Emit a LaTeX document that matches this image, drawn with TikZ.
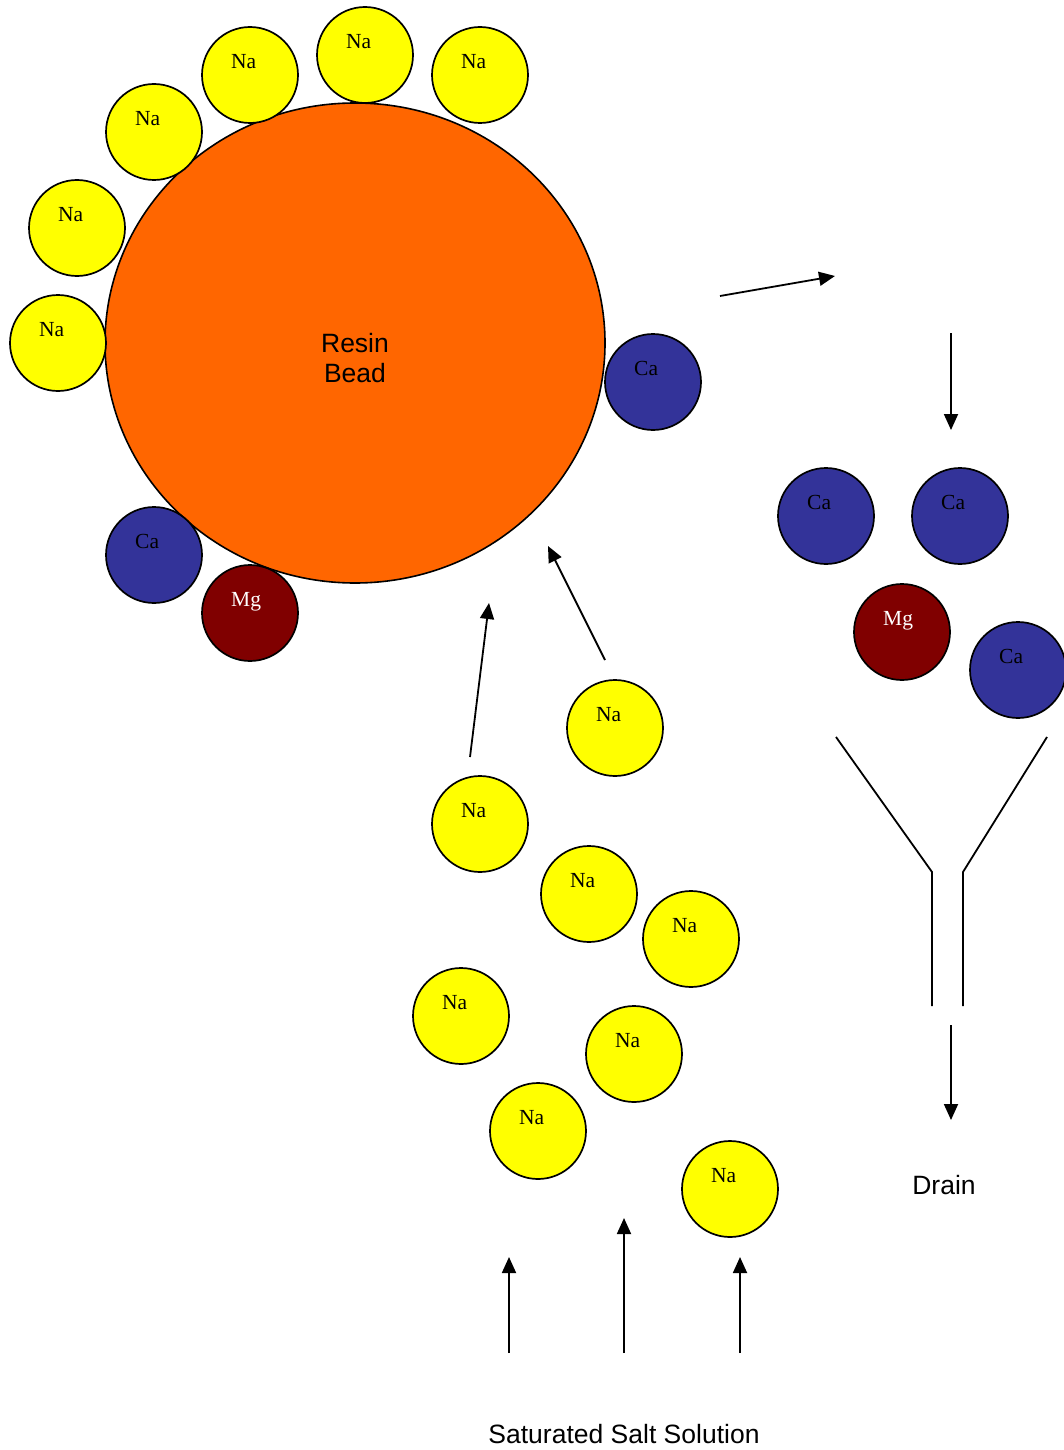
\documentclass[tikz,border=0pt]{standalone}
\usepackage{fontspec}
\setmainfont{Liberation Serif}
\setsansfont{Liberation Sans}
\usetikzlibrary{arrows.meta,calc,shapes.geometric}
\definecolor{beadorange}{HTML}{FF6600}
\definecolor{nayellow}{HTML}{FFFF00}
\definecolor{cablue}{HTML}{333399}
\definecolor{mgred}{HTML}{800000}
\tikzset{
  ion/.style={circle, draw=black, line width=1.7pt, minimum size=96pt, inner sep=0pt},
  naion/.style={ion, fill=nayellow},
  caion/.style={ion, fill=cablue},
  mgion/.style={ion, fill=mgred},
  ionlbl/.style={anchor=base west, inner sep=0pt, font=\fontsize{21.5}{21.5}\selectfont},
  natxt/.style={text=black},
  catxt/.style={text=black},
  mgtxt/.style={text=white},
  bead/.style={ellipse, draw=black, line width=1.6pt, fill=beadorange,
    minimum width=500pt, minimum height=480pt, inner sep=0pt},
  sanslbl/.style={font=\sffamily\fontsize{26.5}{30}\selectfont, inner sep=0pt, align=center},
  flow/.style={line width=1.8pt, -{Triangle[length=16pt,width=14pt]}},
  funnel/.style={line width=1.8pt}
}
\newcommand\myion[5]{%
  \node[#4ion] (#1) at (#2,#3) {};
  \node[ionlbl, #4txt] (#1-t) at ($(#1.center)+(-19,-6.5)$) {#5};}
\begin{document}
\begin{tikzpicture}[x=1pt, y=-1pt]
\useasboundingbox (0,0) rectangle (1063,1450);

% resin bead
\node[bead] (bead) at (355,343) {};
\node[sanslbl] (beadtxt) at (355,358.5) {Resin\\Bead};

% sodium ions around the bead
\myion{na1}{58}{343}{na}{Na}
\myion{na2}{77}{228}{na}{Na}
\myion{na3}{154}{132}{na}{Na}
\myion{na4}{250}{75}{na}{Na}
\myion{na5}{365}{55}{na}{Na}
\myion{na6}{480}{75}{na}{Na}

% hardness ions on the bead
\myion{cab1}{653}{382}{ca}{Ca}
\myion{cab2}{154}{555}{ca}{Ca}
\myion{mgb1}{250}{613}{mg}{Mg}

% released hardness ions
\myion{car1}{826}{516}{ca}{Ca}
\myion{car2}{960}{516}{ca}{Ca}
\myion{mgr1}{902}{632}{mg}{Mg}
\myion{car3}{1018}{670}{ca}{Ca}

% incoming sodium ions
\myion{ns1}{615}{728}{na}{Na}
\myion{ns2}{480}{824}{na}{Na}
\myion{ns3}{589}{894}{na}{Na}
\myion{ns4}{691}{939}{na}{Na}
\myion{ns5}{461}{1016}{na}{Na}
\myion{ns6}{634}{1054}{na}{Na}
\myion{ns7}{538}{1131}{na}{Na}
\myion{ns8}{730}{1189}{na}{Na}

% arrow end points
\coordinate (a1s) at (720,296);  \coordinate (a1e) at (835,276);
\coordinate (a2s) at (951,333);  \coordinate (a2e) at (951,430);
\coordinate (a3s) at (470,757);  \coordinate (a3e) at (489,603);
\coordinate (a4s) at (605,660);  \coordinate (a4e) at (548,546);
\coordinate (a5s) at (509,1353); \coordinate (a5e) at (509,1257);
\coordinate (a6s) at (624,1353); \coordinate (a6e) at (624,1218);
\coordinate (a7s) at (740,1353); \coordinate (a7e) at (740,1257);
\coordinate (a8s) at (951,1025); \coordinate (a8e) at (951,1120);

\draw[flow] (a1s) -- (a1e);
\draw[flow] (a2s) -- (a2e);
\draw[flow] (a3s) -- (a3e);
\draw[flow] (a4s) -- (a4e);
\draw[flow] (a5s) -- (a5e);
\draw[flow] (a6s) -- (a6e);
\draw[flow] (a7s) -- (a7e);
\draw[flow] (a8s) -- (a8e);

% funnel
\coordinate (fl1) at (836,737); \coordinate (fl2) at (932,872); \coordinate (fl3) at (932,1006);
\coordinate (fr1) at (1047,737); \coordinate (fr2) at (963,872); \coordinate (fr3) at (963,1006);
\draw[funnel] (fl1) -- (fl2) -- (fl3);
\draw[funnel] (fr1) -- (fr2) -- (fr3);

% labels
\node[sanslbl, anchor=base] (drain) at (944,1194) {Drain};
\node[sanslbl, anchor=base] (salt) at (624,1443) {Saturated Salt Solution};
\end{tikzpicture}
\end{document}
